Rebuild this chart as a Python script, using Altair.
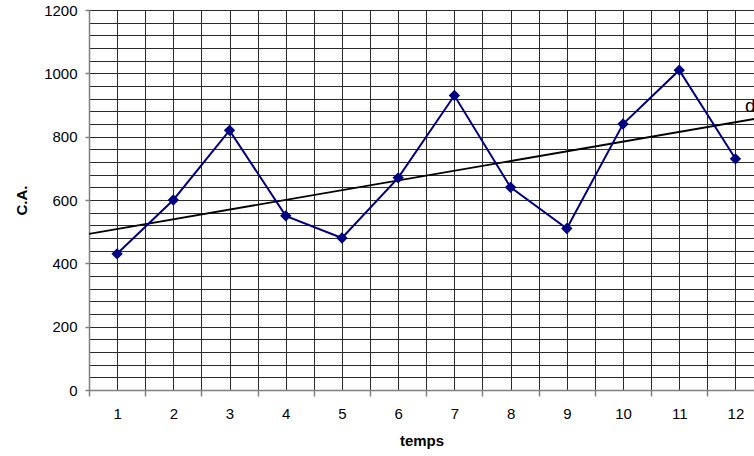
import altair as alt
import pandas as pd

temps = [1, 2, 3, 4, 5, 6, 7, 8, 9, 10, 11, 12]
ca = [430, 600, 820, 550, 480, 670, 930, 640, 510, 840, 1010, 730]

trend_x = [0.5, 12.5]
trend_y = [493, 861]

label_x = [12.17]
label_y = [878]
label_text = ["d"]

df = pd.DataFrame({"temps": temps, "ca": ca})
df_trend = pd.DataFrame({"temps": trend_x, "ca": trend_y})
df_label = pd.DataFrame({"temps": label_x, "ca": label_y, "t": label_text})

FONT = "Liberation Sans"
XMAX = 12.33

x_vals = [i / 2 for i in range(1, 25)]
y_vals = list(range(0, 1201, 40))

x_enc = alt.X(
    "temps:Q",
    scale=alt.Scale(domain=[0.5, XMAX], nice=False, zero=False),
    axis=alt.Axis(
        title="temps",
        values=x_vals,
        labelExpr="datum.value % 1 === 0 ? datum.value : ''",
        tickOpacity={"condition": {"test": "datum.value % 1 !== 0", "value": 1}, "value": 0},
        tickSize=6,
        labelPadding=10,
        titlePadding=12,
        grid=True,
    ),
)
y_enc = alt.Y(
    "ca:Q",
    scale=alt.Scale(domain=[0, 1200], nice=False),
    axis=alt.Axis(
        title="C.A.",
        values=y_vals,
        labelExpr="datum.value % 200 === 0 ? datum.value : ''",
        tickOpacity={"condition": {"test": "datum.value % 200 === 0", "value": 1}, "value": 0},
        tickSize=4,
        labelPadding=8,
        titlePadding=14,
        grid=True,
    ),
)

trend = alt.Chart(df_trend).mark_line(color="#000000", strokeWidth=1.8, clip=True).encode(
    x=x_enc, y=y_enc
)

line = alt.Chart(df).mark_line(color="#000080", strokeWidth=2).encode(x=x_enc, y=y_enc)
points = alt.Chart(df).mark_point(
    shape="diamond", filled=True, color="#000080", size=130, opacity=1
).encode(x=x_enc, y=y_enc)

label = alt.Chart(df_label).mark_text(
    align="left", baseline="alphabetic", fontSize=19, font=FONT, color="#000000"
).encode(x=x_enc, y=y_enc, text="t:N")

chart = (
    alt.layer(trend, line, points, label)
    .properties(
        width=665,
        height=380,
        autosize=alt.AutoSizeParams(type="none"),
        padding={"left": 89, "top": 10, "right": 0, "bottom": 66},
        background="white",
    )
    .configure_view(strokeWidth=0)
    .configure_axis(
        labelFont=FONT,
        labelFontSize=15,
        labelColor="#000000",
        titleFont=FONT,
        titleFontSize=15,
        titleFontWeight="bold",
        titleColor="#000000",
        gridColor="#2a2a2a",
        gridWidth=1,
        gridOpacity=1,
        domainColor="#808080",
        domainWidth=1.5,
        tickColor="#808080",
        tickWidth=1.5,
    )
)

chart.save("out.html", embed_options={"renderer": "svg", "actions": False})
